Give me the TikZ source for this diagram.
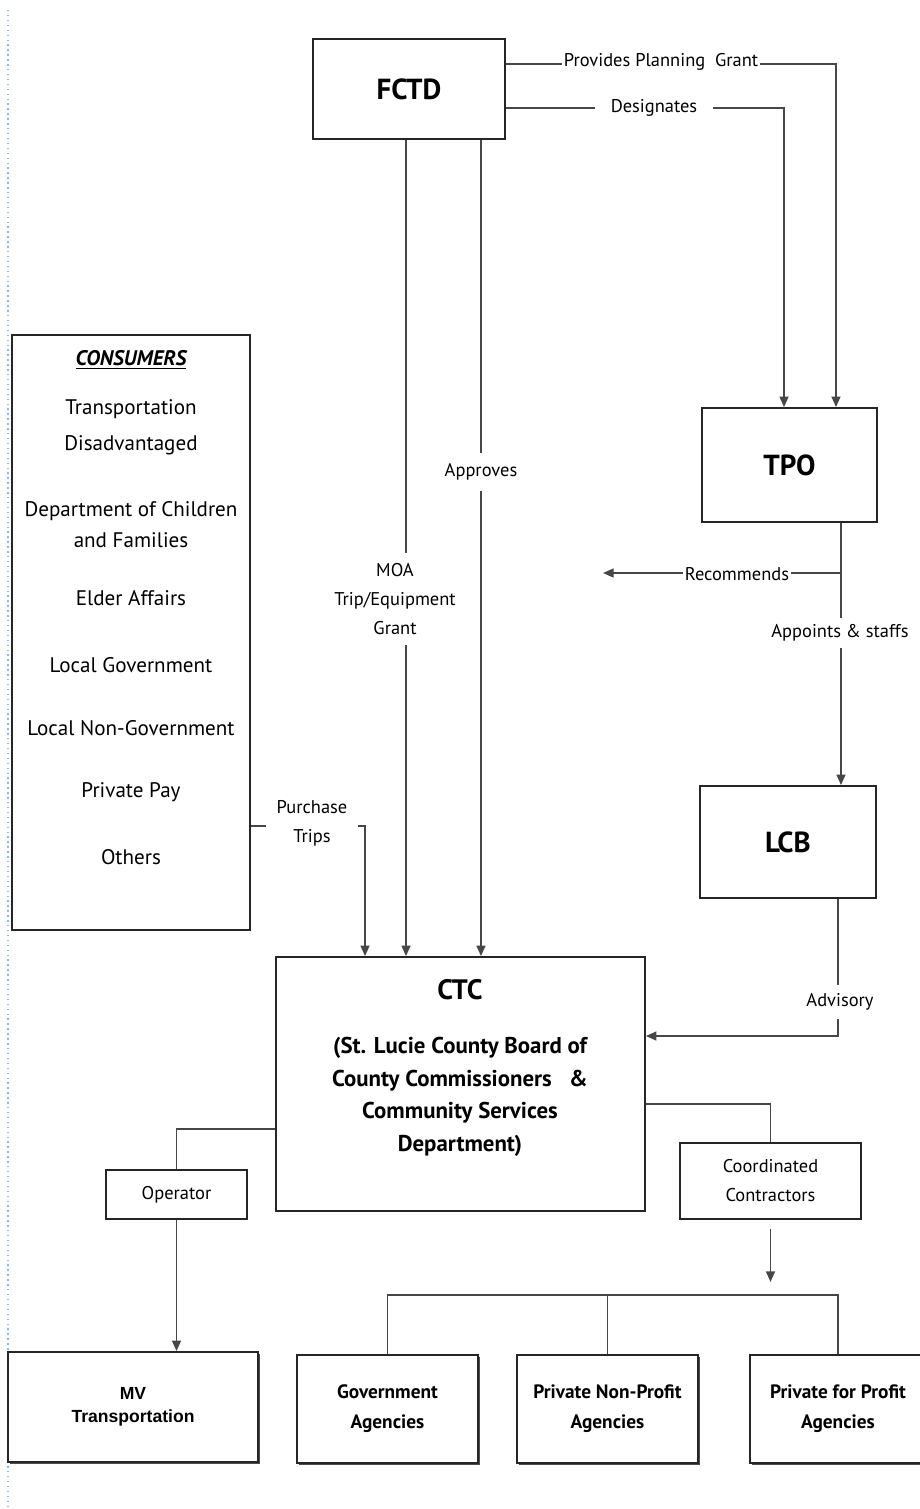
\documentclass[tikz,border=0pt]{standalone}
\usepackage{fontspec}
\setmainfont{PT Sans}
\newfontfamily\mvfont{Liberation Sans}
\usetikzlibrary{arrows.meta,positioning,shadows}

\begin{document}
\begin{tikzpicture}[x=0.02cm,y=-0.02cm,
  box/.style={draw=black!85, fill=white, line width=1pt, inner sep=0pt, align=center},
  shbox/.style={box, drop shadow={shadow xshift=1.3pt, shadow yshift=-1.3pt, fill=black!70, opacity=1}},
  wire/.style={draw=black!72, line width=1.1pt},
  arr/.style={wire, -{Triangle[length=6pt, width=5pt]}},
  lbl/.style={fill=white, inner xsep=3pt, inner ysep=1pt, align=center,
    font=\fontsize{10.5}{16.5}\selectfont},
  head/.style={font=\fontsize{16.5}{19}\selectfont\bfseries},
  item/.style={font=\fontsize{12}{14}\selectfont},
  agency/.style={shbox, minimum width=3.62cm, minimum height=2.16cm,
    font=\fontsize{11}{17}\selectfont\bfseries}
]
  % Fixed bounding box
  \path[use as bounding box] (0,0) rectangle (920,1509);

  % page margin marker
  \draw[cyan!60!blue!45, dotted, line width=0.8pt] (8,10) -- (8,1509);

  % Boxes
  \node[box, head, minimum width=3.84cm, minimum height=2cm] (fctd) at (409,89) {FCTD};
  \node[box, head, minimum width=3.5cm, minimum height=2.28cm] (tpo) at (789.5,465) {TPO};
  \node[box, head, minimum width=3.52cm, minimum height=2.24cm] (lcb) at (788,842) {LCB};
  \node[box, minimum width=4.76cm, minimum height=11.9cm] (consumers) at (131,632.5) {};
  \node[box, minimum width=7.38cm, minimum height=5.08cm] (ctc) at (460.5,1084) {};
  \node[box, minimum width=2.82cm, minimum height=0.98cm,
    font=\fontsize{10.5}{12}\selectfont] (op) at (176.5,1194.5) {Operator};
  \node[box, minimum width=3.62cm, minimum height=1.52cm,
    font=\fontsize{10.5}{16.5}\selectfont] (cc) at (770.5,1181) {Coordinated\\Contractors};
  \node[shbox, minimum width=5cm, minimum height=2.2cm,
    font=\mvfont\fontsize{10}{13}\selectfont\bfseries] (mv) at (133,1407) {MV\\Transportation};
  \node[agency] (gov) at (387.5,1409) {Government\\Agencies};
  \node[agency] (npo) at (607.5,1409) {Private Non-Profit\\Agencies};
  \node[agency, minimum width=3.52cm] (fpo) at (838,1409) {Private for Profit\\Agencies};

  % Box texts
  \node[font=\fontsize{12}{14}\selectfont\bfseries\itshape] (contitle) at (131,360) {\underline{CONSUMERS}};
  \foreach \yy/\txt in {409/Transportation, 445/Disadvantaged, 511/Department of Children,
    540/and Families, 598/Elder Affairs, 665/Local Government, 728/Local Non-Government,
    792/Private Pay, 857/Others}
    \node[item] (item\yy) at (131,\yy) {\txt};
  \node[align=center, font=\fontsize{13}{18.7}\selectfont\bfseries] (ctctext) at (460,1068)
    {{\fontsize{16}{19}\selectfont CTC}\\[12pt]
     (St. Lucie County Board of\\County Commissioners\ \ \ \&\\Community Services\\Department)};

  % Connectors
  \draw[arr] ([yshift=0.5cm]fctd.east) -| ([xshift=0.93cm]tpo.north);
  \draw[arr] ([yshift=-0.38cm]fctd.east) -| ([xshift=-0.11cm]tpo.north);
  \draw[arr] ([xshift=1.03cm]tpo.south) -- ([xshift=1.03cm]tpo.south |- lcb.north);
  \coordinate (recbranch) at (841,573);
  \coordinate (recend) at (603,573);
  \draw[arr] (recbranch) -- (recend);
  \draw[arr] ([xshift=1cm]lcb.south) |- ([yshift=0.96cm]ctc.east);
  \draw[arr] ([yshift=-3.87cm]consumers.east) -| ([xshift=-1.91cm]ctc.north);
  \draw[arr] ([xshift=-0.06cm]fctd.south) -- ([xshift=-0.06cm]fctd.south |- ctc.north);
  \draw[arr] ([xshift=1.44cm]fctd.south) -- ([xshift=1.44cm]fctd.south |- ctc.north);
  \draw[wire] ([yshift=-0.9cm]ctc.west) -| (op.north);
  \draw[arr] (op.south) -- (op.south |- mv.north);
  \draw[wire] ([yshift=-0.4cm]ctc.east) -| (cc.north);
  \coordinate (ccend) at (770.5,1282);
  \draw[arr] ([yshift=-0.18cm]cc.south) -- (ccend);
  \coordinate (bus) at (0,1295);
  \draw[wire] (gov.north) -- (gov.north |- bus) -- (fpo.north |- bus) -- (fpo.north);
  \draw[wire] (npo.north |- bus) -- (npo.north);

  % Connector labels
  \node[lbl, inner xsep=1pt] (lplan) at (661,62) {Provides Planning\ \ Grant};
  \node[lbl, inner xsep=9pt] (ldesig) at (654,108) {Designates};
  \node[lbl, inner xsep=1pt] (lrec) at (737,574) {Recommends};
  \node[lbl, inner ysep=4pt] (lappt) at (840,633) {Appoints \& staffs};
  \node[lbl, inner ysep=5pt] (ladv) at (840,1002) {Advisory};
  \node[lbl, inner xsep=6pt] (lpur) at (312,823) {Purchase\\Trips};
  \node[lbl, inner ysep=6pt] (lmoa) at (395,599) {MOA\\Trip/Equipment\\Grant};
  \node[lbl, inner ysep=6pt] (lappr) at (481,472) {Approves};
\end{tikzpicture}
\end{document}
